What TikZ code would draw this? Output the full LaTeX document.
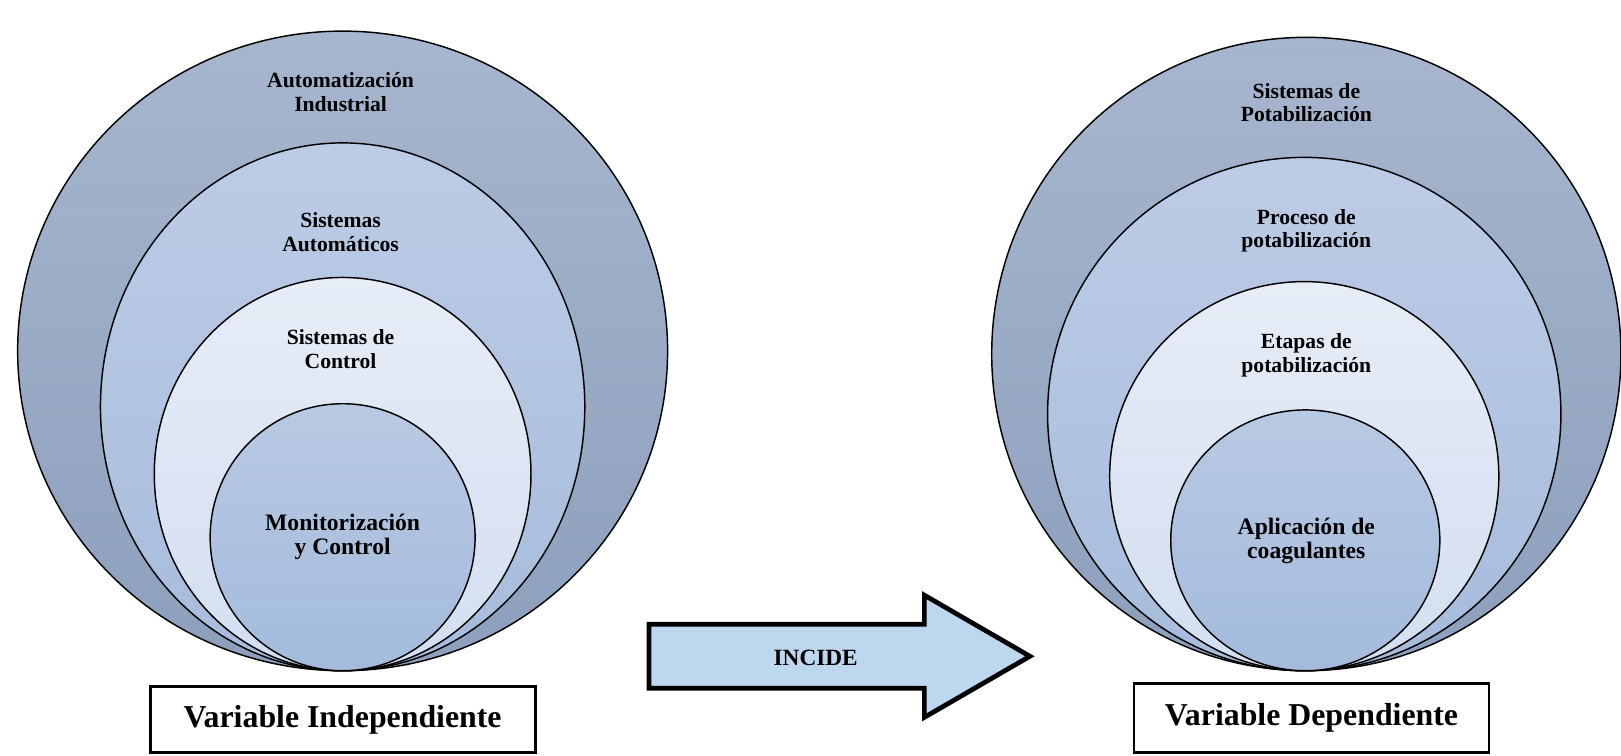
\documentclass[tikz,border=0pt]{standalone}
\usepackage{fontspec}
\setmainfont{Liberation Serif}
\usepackage{xcolor}
\usepackage{tikz}
\usetikzlibrary{
	shapes,positioning
}

\definecolor{ringAtop}{HTML}{A6B6CE}
\definecolor{ringAbot}{HTML}{8C9FBC}
\definecolor{ringBtop}{HTML}{BCCCE6}
\definecolor{ringBbot}{HTML}{A6BCDC}
\definecolor{ringCtop}{HTML}{E7EDF7}
\definecolor{ringCbot}{HTML}{D2DEF0}
\definecolor{ringDtop}{HTML}{B8C9E3}
\definecolor{ringDbot}{HTML}{A4BBDC}
\definecolor{arrowfill}{HTML}{BDD7EE}

\tikzset{
	ring/.style={ellipse, draw, line width=0.8pt, inner sep=0pt},
	ringA/.style={ring, top color=ringAtop, bottom color=ringAbot},
	ringB/.style={ring, top color=ringBtop, bottom color=ringBbot},
	ringC/.style={ring, top color=ringCtop, bottom color=ringCbot},
	ringD/.style={ring, top color=ringDtop, bottom color=ringDbot},
	lbl/.style={align=center, font=\fontsize{11.9}{13}\selectfont\bfseries},
	biglbl/.style={align=center, font=\fontsize{13}{13.2}\selectfont\bfseries},
	varbox/.style={draw, line width=1.6pt, fill=white, inner sep=0pt,
		font=\fontsize{17.5}{17.5}\selectfont\bfseries}
}

\begin{document}
\begin{tikzpicture}[x=0.02cm,y=-0.02cm]
	\useasboundingbox (0,0) rectangle (1566,730);
	% left rings
	\node[ringA, minimum width=12.56cm, minimum height=12.36cm] (AI) at (331,339) {};
	\node[ringB, minimum width=9.36cm, minimum height=10.2cm] (SA) at (331,393) {};
	\node[ringC, minimum width=7.28cm, minimum height=7.6cm] (SC) at (331,458) {};
	\node[ringD, minimum width=5.12cm, minimum height=5.16cm] (MC) at (331,519) {};
	% right rings
	\node[ringA, minimum width=12.16cm, minimum height=12.24cm] (SP) at (1262,342) {};
	\node[ringB, minimum width=9.92cm, minimum height=9.92cm] (PP) at (1260,400) {};
	\node[ringC, minimum width=7.52cm, minimum height=7.52cm] (EP) at (1260,460) {};
	\node[ringD, minimum width=5.2cm, minimum height=5.04cm] (AC) at (1261,522) {};
	% labels
	\node[lbl] (tAI) at (329,89) {Automatización\\Industrial};
	\node[lbl] (tSA) at (329,224) {Sistemas\\Automáticos};
	\node[lbl] (tSC) at (329,337) {Sistemas de\\Control};
	\node[biglbl] (tMC) at (331,519) {Monitorización\\y Control};
	\node[lbl] (tSP) at (1262,99) {Sistemas de\\Potabilización};
	\node[lbl] (tPP) at (1262,223) {Proceso de\\potabilización};
	\node[lbl] (tEP) at (1262,343) {Etapas de\\potabilización};
	\node[biglbl] (tAC) at (1262,523) {Aplicación de\\coagulantes};
	% arrow
	\draw[line width=2.6pt, fill=arrowfill]
		(627,603) -- (893,603) -- (893,575) -- (995,634)
		-- (893,693) -- (893,665) -- (627,665) -- cycle;
	\node[font=\fontsize{12.8}{12.8}\selectfont\bfseries] (incide) at (788,636) {INCIDE};
	% variable boxes
	\node[varbox, minimum width=7.44cm, minimum height=1.28cm] (VI) at (331,695) {Variable Independiente};
	\node[varbox, minimum width=6.86cm, minimum height=1.34cm] (VD) at (1267,693.5) {Variable Dependiente};
\end{tikzpicture}
\end{document}
